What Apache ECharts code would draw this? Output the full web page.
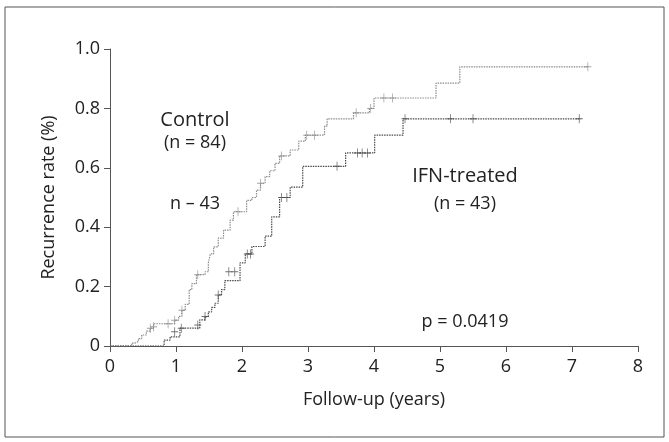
<!DOCTYPE html>
<html>
<head>
<meta charset="utf-8">
<script src="https://cdn.jsdelivr.net/npm/echarts@6/dist/echarts.min.js"></script>
<style>
  html, body { margin: 0; padding: 0; background: #fff; }
  #main { width: 669px; height: 442px; }
</style>
</head>
<body>
<div id="main"></div>
<script>
var myChart = echarts.init(document.getElementById('main'));

// Kaplan-Meier steps
let controlTime = [0, 0.33, 0.38, 0.43, 0.48, 0.55, 0.61, 0.66, 0.98, 1.04, 1.09, 1.14, 1.2, 1.24, 1.31, 1.44, 1.49, 1.52, 1.57, 1.64, 1.72, 1.82, 1.87, 2.07, 2.15, 2.22, 2.28, 2.35, 2.42, 2.5, 2.57, 2.73, 2.86, 2.96, 3.25, 3.29, 3.69, 3.93, 4.0, 4.94, 5.3, 7.24];
let controlRate = [0, 0.01, 0.015, 0.025, 0.037, 0.05, 0.06, 0.075, 0.087, 0.10, 0.12, 0.14, 0.19, 0.21, 0.24, 0.25, 0.28, 0.31, 0.334, 0.363, 0.39, 0.424, 0.452, 0.49, 0.5, 0.525, 0.548, 0.57, 0.59, 0.615, 0.64, 0.66, 0.69, 0.71, 0.74, 0.765, 0.785, 0.80, 0.835, 0.885, 0.94, 0.94];
let controlCensorTime = [0.61, 0.66, 0.88, 0.98, 1.09, 1.33, 1.94, 2.28, 2.6, 2.98, 3.1, 3.73, 3.95, 4.15, 4.28, 7.24];
let controlCensorRate = [0.06, 0.065, 0.075, 0.087, 0.12, 0.24, 0.452, 0.548, 0.64, 0.71, 0.71, 0.785, 0.80, 0.835, 0.835, 0.94];

let ifnTime = [0, 0.82, 0.91, 1.06, 1.36, 1.44, 1.49, 1.54, 1.59, 1.64, 1.69, 1.74, 1.97, 2.05, 2.15, 2.35, 2.45, 2.57, 2.73, 2.92, 3.57, 4.01, 4.44, 7.13];
let ifnRate = [0, 0.02, 0.031, 0.06, 0.088, 0.099, 0.115, 0.13, 0.144, 0.172, 0.19, 0.22, 0.28, 0.31, 0.335, 0.37, 0.435, 0.50, 0.535, 0.605, 0.65, 0.71, 0.765, 0.765];
let ifnCensorTime = [0.98, 1.08, 1.33, 1.44, 1.64, 1.8, 1.89, 2.08, 2.13, 2.6, 2.68, 3.44, 3.75, 3.82, 3.9, 4.47, 5.16, 5.5, 7.11];
let ifnCensorRate = [0.048, 0.06, 0.071, 0.099, 0.172, 0.25, 0.25, 0.31, 0.31, 0.50, 0.50, 0.605, 0.65, 0.65, 0.65, 0.765, 0.765, 0.765, 0.765];

let xTicks = [0, 1, 2, 3, 4, 5, 6, 7, 8];
let yTicks = [0, 0.2, 0.4, 0.6, 0.8, 1.0];

function pairs(xs, ys) {
    let out = [];
    for (let i = 0; i < xs.length; i++) out.push([xs[i], ys[i]]);
    return out;
}

var plus = 'path://M4,0h1v4h4v1h-4v4h-1v-4h-4v-1h4z';
var font = '"Open Sans", sans-serif';
var ink = '#222';

var option = {
    animation: false,
    backgroundColor: '#fff',
    grid: {
        left: 110,
        right: 31,
        top: 49,
        bottom: 96
    },
    xAxis: {
        type: 'value',
        min: xTicks[0],
        max: xTicks[xTicks.length - 1],
        interval: 1,
        name: 'Follow-up (years)',
        nameLocation: 'middle',
        nameGap: 45,
        nameTextStyle: { color: ink, fontSize: 18, fontFamily: font },
        axisLine: { lineStyle: { color: '#555', width: 1 } },
        axisTick: { length: 6, lineStyle: { color: '#555' } },
        axisLabel: { color: ink, fontSize: 18, fontFamily: font, margin: 12 },
        splitLine: { show: false }
    },
    yAxis: {
        type: 'value',
        min: yTicks[0],
        max: yTicks[yTicks.length - 1],
        interval: 0.2,
        name: 'Recurrence rate (%)',
        nameLocation: 'middle',
        nameGap: 52,
        nameTextStyle: { color: ink, fontSize: 18, fontFamily: font },
        axisLine: { show: true, lineStyle: { color: '#555', width: 1 } },
        axisTick: { show: true, length: 6, lineStyle: { color: '#555' } },
        axisLabel: {
            color: ink, fontSize: 18, fontFamily: font, margin: 10,
            formatter: function (v) { return v === 0 ? '0' : v.toFixed(1); }
        },
        splitLine: { show: false }
    },
    graphic: [
        { type: 'rect', shape: { x: 5, y: 7, width: 659, height: 430 }, style: { fill: 'none', stroke: '#555', lineWidth: 1 } },
        { type: 'text', x: 195, y: 120, style: { text: 'Control', fontSize: 20, fontFamily: font, fill: ink, align: 'center', verticalAlign: 'middle' } },
        { type: 'text', x: 195, y: 143, style: { text: '(n = 84)', fontSize: 18, fontFamily: font, fill: ink, align: 'center', verticalAlign: 'middle' } },
        { type: 'text', x: 195, y: 204, style: { text: 'n – 43', fontSize: 18, fontFamily: font, fill: ink, align: 'center', verticalAlign: 'middle' } },
        { type: 'text', x: 465, y: 176, style: { text: 'IFN-treated', fontSize: 20, fontFamily: font, fill: ink, align: 'center', verticalAlign: 'middle' } },
        { type: 'text', x: 465, y: 204, style: { text: '(n = 43)', fontSize: 18, fontFamily: font, fill: ink, align: 'center', verticalAlign: 'middle' } },
        { type: 'text', x: 465, y: 322, style: { text: 'p = 0.0419', fontSize: 18, fontFamily: font, fill: ink, align: 'center', verticalAlign: 'middle' } }
    ],
    series: [
        {
            name: 'Control',
            type: 'line',
            step: 'end',
            showSymbol: false,
            lineStyle: { color: '#8c8c8c', width: 1.2, type: [1.5, 1] },
            data: pairs(controlTime, controlRate)
        },
        {
            name: 'IFN-treated',
            type: 'line',
            step: 'end',
            showSymbol: false,
            lineStyle: { color: '#4a4a4a', width: 1.2, type: [1.5, 1] },
            data: pairs(ifnTime, ifnRate)
        },
        {
            name: 'Control censored',
            type: 'scatter',
            symbol: plus,
            symbolSize: [7, 9],
            itemStyle: { color: '#8c8c8c' },
            data: pairs(controlCensorTime, controlCensorRate)
        },
        {
            name: 'IFN censored',
            type: 'scatter',
            symbol: plus,
            symbolSize: [7, 9],
            itemStyle: { color: '#4a4a4a' },
            data: pairs(ifnCensorTime, ifnCensorRate)
        }
    ]
};

myChart.setOption(option);
</script>
</body>
</html>
